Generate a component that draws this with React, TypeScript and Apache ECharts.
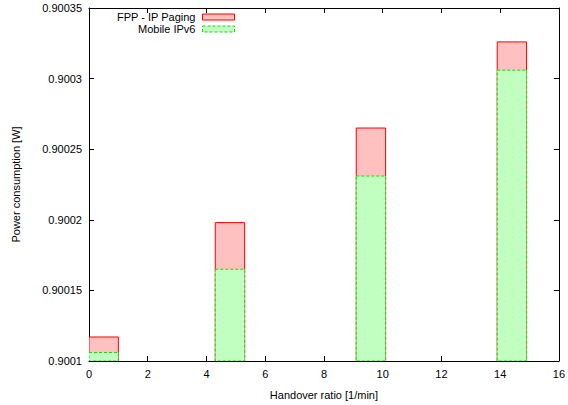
import React, { useEffect, useRef } from "react";
import * as echarts from "echarts";

// Handover ratio bins (box edges, 1/min)
const binStart = [0, 4.3, 9.1, 13.9];
const binEnd = [1, 5.3, 10.1, 14.9];

// Power consumption per scheme [W]
const fppPaging = [0.900117, 0.900198, 0.900265, 0.900326];
const mobileIPv6 = [0.900106, 0.900165, 0.900231, 0.900306];

const seriesNames = ["FPP - IP Paging", "Mobile IPv6"];

const yTicks = [0.9001, 0.90015, 0.9002, 0.90025, 0.9003, 0.90035];
const xTicks = [0, 2, 4, 6, 8, 10, 12, 14, 16];

const Y_MIN = 0.9001;
const Y_MAX = 0.90035;

const FONT = "'Liberation Sans', Arial, Helvetica, sans-serif";

const redStyle = { fill: "#ffc0c0", stroke: "#ff0000", lineWidth: 1 };
const greenStyle = { fill: "#c0ffc0", stroke: "#11dd11", lineWidth: 1, lineDash: [3, 2] };

function boxes(values: number[]) {
  return values.map((v, i) => [binStart[i], binEnd[i], v]);
}

function makeRender(style: any) {
  return (params: any, api: any) => {
    const x0 = api.value(0);
    const x1 = api.value(1);
    const v = api.value(2);
    const pTop = api.coord([x0, v]);
    const pBot = api.coord([x1, Y_MIN]);
    return {
      type: "rect",
      shape: {
        x: pTop[0],
        y: pTop[1],
        width: pBot[0] - pTop[0],
        height: pBot[1] - pTop[1],
      },
      style: { ...style },
    };
  };
}

const fmtY = (v: number) => parseFloat(v.toFixed(5)).toString();

export default function App() {
  const ref = useRef<HTMLDivElement>(null);

  useEffect(() => {
    if (!ref.current) return;
    const chart = echarts.init(ref.current, null, { renderer: "svg" });

    const tickStyle = { inside: true, length: 5, lineStyle: { color: "#000", width: 1 } };
    const lineStyle = { show: true, onZero: false, lineStyle: { color: "#000", width: 1 } };

    chart.setOption({
      animation: false,
      backgroundColor: "#fff",
      textStyle: { fontFamily: FONT },
      grid: { left: 89, right: 7, top: 8, bottom: 41, containLabel: false },
      legend: {
        orient: "vertical",
        align: "right",
        right: 333,
        top: 11,
        padding: 0,
        itemWidth: 32,
        itemHeight: 6,
        itemGap: 0,
        selectedMode: false,
        textStyle: {
          fontFamily: FONT,
          fontSize: 11,
          color: "#000",
          lineHeight: 12,
          padding: [0, 2, 0, 0],
        },
        data: [
          {
            name: seriesNames[0],
            icon: "rect",
            itemStyle: { color: redStyle.fill, borderColor: redStyle.stroke, borderWidth: 1 },
          },
          {
            name: seriesNames[1],
            icon: "rect",
            itemStyle: {
              color: greenStyle.fill,
              borderColor: greenStyle.stroke,
              borderWidth: 1,
              borderType: [3, 2],
            },
          },
        ],
      },
      xAxis: [
        {
          type: "value",
          min: 0,
          max: 16,
          interval: 2,
          position: "bottom",
          name: "Handover ratio [1/min]",
          nameLocation: "middle",
          nameGap: 28,
          nameTextStyle: { fontFamily: FONT, fontSize: 11, color: "#000" },
          axisLine: lineStyle,
          axisTick: { ...tickStyle, customValues: xTicks },
          axisLabel: { fontFamily: FONT, fontSize: 11, color: "#000", margin: 7, customValues: xTicks },
          splitLine: { show: false },
        },
        {
          type: "value",
          min: 0,
          max: 16,
          interval: 2,
          position: "top",
          axisLine: lineStyle,
          axisTick: { ...tickStyle, customValues: xTicks },
          axisLabel: { show: false },
          splitLine: { show: false },
        },
      ],
      yAxis: [
        {
          type: "value",
          min: Y_MIN,
          max: Y_MAX,
          position: "left",
          name: "Power consumption [W]",
          nameLocation: "middle",
          nameGap: 68,
          nameRotate: 90,
          nameTextStyle: { fontFamily: FONT, fontSize: 11, color: "#000" },
          axisLine: lineStyle,
          axisTick: { ...tickStyle, customValues: yTicks },
          axisLabel: {
            fontFamily: FONT,
            fontSize: 11,
            color: "#000",
            margin: 7,
            customValues: yTicks,
            formatter: fmtY,
          },
          splitLine: { show: false },
        },
        {
          type: "value",
          min: Y_MIN,
          max: Y_MAX,
          position: "right",
          axisLine: lineStyle,
          axisTick: { ...tickStyle, customValues: yTicks },
          axisLabel: { show: false },
          splitLine: { show: false },
        },
      ],
      series: [
        {
          name: seriesNames[0],
          type: "custom",
          xAxisIndex: 0,
          yAxisIndex: 0,
          renderItem: makeRender(redStyle),
          encode: { x: [0, 1], y: 2 },
          itemStyle: { color: redStyle.fill },
          data: boxes(fppPaging),
          clip: true,
        },
        {
          name: seriesNames[1],
          type: "custom",
          xAxisIndex: 0,
          yAxisIndex: 0,
          renderItem: makeRender(greenStyle),
          encode: { x: [0, 1], y: 2 },
          itemStyle: { color: greenStyle.fill },
          data: boxes(mobileIPv6),
          clip: true,
        },
      ],
    });

    return () => chart.dispose();
  }, []);

  return (
    <div
      ref={ref}
      style={{ position: "fixed", left: 0, top: 0, width: 568, height: 405, background: "#fff" }}
    />
  );
}
